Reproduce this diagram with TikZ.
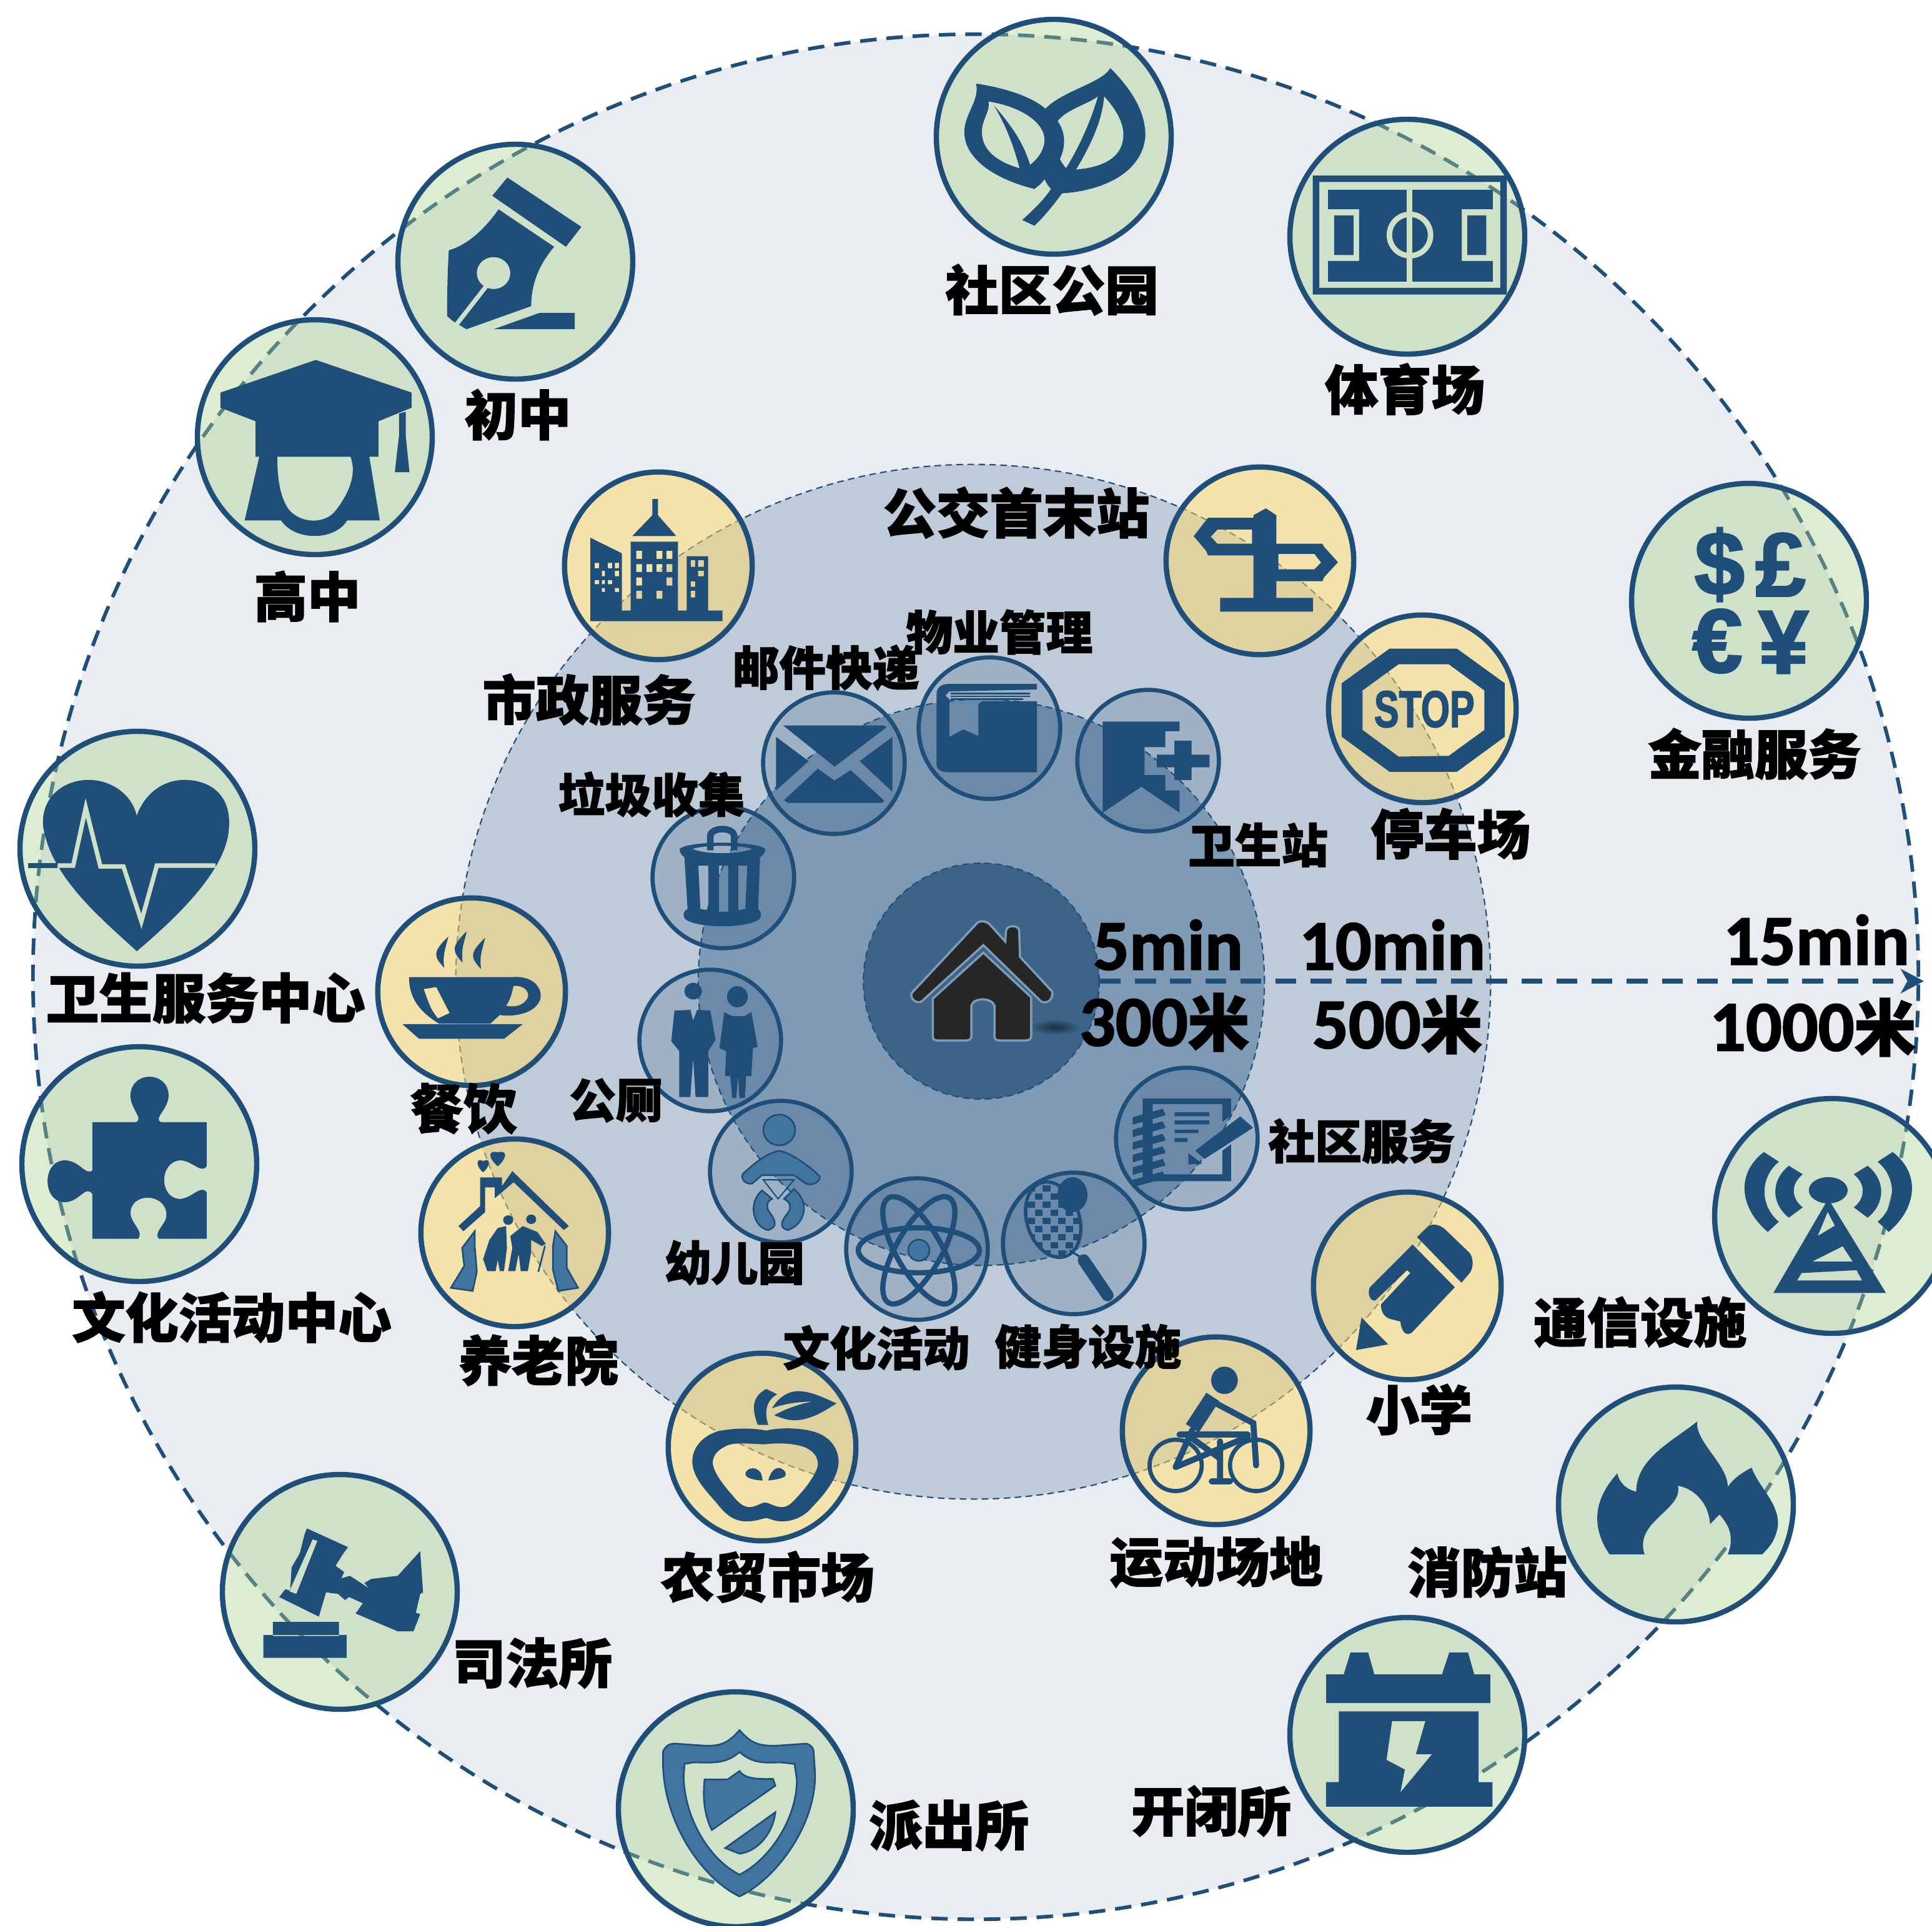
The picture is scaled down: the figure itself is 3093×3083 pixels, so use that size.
\documentclass[tikz,border=0pt]{standalone}
\usepackage{fontspec}
\usetikzlibrary{arrows.meta}
\newfontfamily\cjkfont[BoldFeatures={FakeBold=1.8}]{Noto Sans CJK SC}
\newfontfamily\numfont[BoldFeatures={FakeBold=1.8}]{Carlito}
\newfontfamily\signfont[BoldFeatures={FakeBold=2.2}]{Liberation Sans}
\definecolor{iconblue}{HTML}{1F4E79}
\definecolor{softblue}{HTML}{41749F}
\definecolor{paleball}{HTML}{CFE0C8}
\definecolor{ringout}{HTML}{E9ECF1}
\definecolor{ringmid}{HTML}{BFCBD9}
\definecolor{ringin}{HTML}{7F9AB5}
\definecolor{ringhome}{HTML}{3B6488}
\definecolor{balgreen}{HTML}{A9D18E}
\definecolor{balyellow}{HTML}{FFD966}
\newcommand{\mi}{{\cjkfont\bfseries\fontsize{56}{56}\selectfont 米}}
\tikzset{
    greenball/.style={circle,draw=iconblue,line width=4.8pt,fill=balgreen,fill opacity=.4,minimum size=214pt,inner sep=0},
    yellowball/.style={circle,draw=iconblue,line width=4.8pt,fill=balyellow,fill opacity=.5,minimum size=171pt,inner sep=0},
    blueball/.style={circle,draw=iconblue,line width=3.8pt,fill=iconblue,fill opacity=.2,minimum size=129pt,inner sep=0},
    thinring/.style={circle,draw=iconblue,line width=1.2pt,dash pattern=on 6pt off 4pt,inner sep=0},
    lblLarge/.style={inner sep=0,font=\cjkfont\bfseries\fontsize{48.5}{48.5}\selectfont},
    lblSmall/.style={inner sep=0,font=\cjkfont\bfseries\fontsize{42.5}{42.5}\selectfont},
    lblNum/.style={inner sep=0,font=\numfont\bfseries\fontsize{65}{65}\selectfont},
    lblSign/.style={inner sep=0,text=iconblue,font=\signfont\bfseries\fontsize{82}{82}\selectfont},
    iconfill/.style={fill=iconblue,even odd rule},
    softfill/.style={fill=softblue,draw=iconblue,line width=1.5pt,even odd rule},
    zoomA/.style={shift={(1300,1300)},xscale=.6378,yscale=.4464},
    zoomB/.style={shift={(1400,0)},xscale=.7015,yscale=.4145},
    zoomC/.style={shift={(0,200)},xscale=.6696,yscale=.6378},
    zoomD/.style={shift={(1000,1000)},xscale=.6378,yscale=.4464},
    zoomE/.style={shift={(1000,1500)},xscale=.6378,yscale=.4464},
    zoomF/.style={shift={(300,2300)},xscale=.7653,yscale=.4994},
    zoomG/.style={shift={(1700,1650)},xscale=.8884,yscale=.9139},
    zoomH/.style={shift={(2000,700)},xscale=.6971,yscale=.6378},
    zoomI/.style={shift={(0,1150)},xscale=.6696,yscale=.6378},
    zoomJ/.style={shift={(1860,740)},scale=.3333},
    zoomK/.style={shift={(890,745)},scale=.3333},
    zoomL/.style={shift={(1060,2160)},scale=.3333}
}
\begin{document}
\begin{tikzpicture}[x=.02cm,y=-.02cm]
    \clip (0,0) rectangle (3093,3083);
    %rings
    \node[circle,draw=iconblue,fill=ringout,line width=3.3pt,dash pattern=on 15pt off 9pt,minimum size=1718pt,inner sep=0] (ringOuter) at (1562,1564) {};
    \node[thinring,fill=ringmid,minimum size=943pt] (ringMiddle) at (1558,1572) {};
    \node[thinring,fill=ringin,minimum size=516pt] (ringInner) at (1571,1573) {};
    \node[thinring,fill=ringhome,minimum size=215pt] (ringHome) at (1571,1571) {};

    %distance arrow
    \coordinate (arrowEnd) at (3080,1571);
    \draw[iconblue,line width=4.5pt,dash pattern=on 19pt off 13pt,-{Stealth[length=21pt,width=22pt,inset=6pt]}] (ringHome.east) -- (arrowEnd);

    %outer balls
    \node[greenball] (park) at (1687,219) {};
    \node[greenball] (stadium) at (2253,379) {};
    \node[greenball] (junior) at (825,419) {};
    \node[greenball] (senior) at (504,700) {};
    \node[greenball] (health) at (220,1359) {};
    \node[greenball] (culture) at (223,1864) {};
    \node[greenball] (justice) at (544,2549) {};
    \node[greenball] (police) at (1178,2897) {};
    \node[greenball] (power) at (2253,2778) {};
    \node[greenball] (fire) at (2683,2409) {};
    \node[greenball] (telecom) at (2933,1947) {};
    \node[greenball] (finance) at (2800,962) {};

    %middle balls
    \node[yellowball] (busstop) at (2017,898) {};
    \node[yellowball] (parking) at (2277,1135) {};
    \node[yellowball] (civic) at (1054,906) {};
    \node[yellowball] (dining) at (755,1588) {};
    \node[yellowball] (elder) at (824,1974) {};
    \node[yellowball] (market) at (1220,2317) {};
    \node[yellowball] (sports) at (1947,2291) {};
    \node[yellowball] (primary) at (2253,2059) {};

    %inner balls
    \node[blueball] (service) at (1900,1823) {};
    \node[blueball] (fitness) at (1719,1991) {};
    \node[blueball] (activity) at (1468,2000) {};
    \node[blueball] (nursery) at (1250,1876) {};
    \node[blueball] (toilet) at (1137,1666) {};
    \node[blueball] (trash) at (1158,1405) {};
    \node[blueball] (mail) at (1335,1222) {};
    \node[blueball] (property) at (1584,1166) {};
    \node[blueball] (clinic) at (1838,1218) {};

    %house
    \begin{scope}[zoomA]
        \shade[inner color=black!55!ringhome,outer color=ringhome] (610,772) ellipse [x radius=65,y radius=28];
        \filldraw[fill=black!85,draw=ringin,line width=2pt] (250,650) -- (415,398) .. controls (425,388) and (435,392) .. (445,402) -- (485,465) -- (487,425) .. controls (490,405) and (518,405) .. (520,425) -- (522,520) -- (603,645) .. controls (605,675) and (590,690) .. (575,680) -- (430,478) -- (275,680) .. controls (262,690) and (245,670) .. (250,650) -- cycle;
        \filldraw[fill=black!85,draw=ringin,line width=2pt] (430,505) -- (550,665) -- (550,805) .. controls (550,815) and (545,820) .. (535,820) -- (470,820) .. controls (462,820) and (458,815) .. (458,805) -- (458,695) .. controls (450,665) and (405,665) .. (400,695) -- (400,805) .. controls (400,815) and (395,820) .. (385,820) -- (315,820) .. controls (307,820) and (303,815) .. (303,805) -- (303,670) -- cycle;
    \end{scope}

    %park leaves and stadium
    \begin{scope}[zoomB]
        \path[iconfill] (232,323) .. controls (300,340) and (360,375) .. (390,420) .. controls (430,350) and (520,320) .. (538,263) .. controls (590,350) and (620,440) .. (618,530) .. controls (610,660) and (530,735) .. (428,747) .. controls (405,800) and (385,840) .. (365,872) -- (337,850) .. controls (360,815) and (385,775) .. (403,730) .. controls (395,715) .. (388,692) .. controls (380,710) .. (365,730) .. controls (270,690) and (205,610) .. (205,510) .. controls (205,440) and (240,390) .. (232,323) -- cycle
            (260,392) .. controls (330,410) and (388,470) .. (388,540) .. controls (388,580) and (372,615) .. (355,637) .. controls (340,550) and (310,480) .. (273,408) .. controls (305,500) and (320,580) .. (331,650) .. controls (270,620) and (245,570) .. (245,510) .. controls (245,460) and (265,430) .. (260,392) -- cycle
            (510,372) .. controls (490,400) and (435,425) .. (418,468) .. controls (435,510) and (438,560) .. (423,615) .. controls (428,630) .. (437,650) .. controls (470,560) and (495,460) .. (510,372) -- cycle
            (524,372) .. controls (520,470) and (490,570) .. (460,655) .. controls (530,645) and (568,600) .. (568,520) .. controls (568,470) and (550,420) .. (524,372) -- cycle;
        \path[iconfill] (1000,678) rectangle (1443,1138) (1015,703) rectangle (1428,1112);
        \path[iconfill] (1035,733) -- (1411,733) -- (1411,808) -- (1340,808) -- (1340,1008) -- (1411,1008) -- (1411,1088) -- (1035,1088) -- (1035,1008) -- (1106,1008) -- (1106,808) -- (1035,808) -- cycle;
        \fill[paleball] (1215,733) rectangle (1228,1088);
        \draw[paleball,line width=5pt] (1222,908) ellipse [x radius=47,y radius=80];
        \path[iconfill] (1049,832) rectangle (1093,985) (1353,832) rectangle (1396,985);
    \end{scope}

    %pen and graduation cap
    \begin{scope}[zoomC]
        \path[iconfill] (1213,132) -- (1390,256) -- (1353,306) -- (1177,178) -- cycle;
        \path[iconfill] (1192,212) -- (1325,306) .. controls (1285,355) and (1270,405) .. (1270,455) -- (1115,513) -- (1082,492) -- (1069,480) .. controls (1069,420) and (1070,370) .. (1073,315) .. controls (1120,300) and (1160,260) .. (1192,212) -- cycle;
        \draw[paleball,line width=4pt] (1170,395) -- (1092,500);
        \fill[paleball] (1180,372) ellipse [x radius=40,y radius=40];
        \path[iconfill] (1290,472) -- (1374,472) -- (1374,513) -- (1180,513) -- cycle;
        \path[iconfill] (755,590) -- (984,672) -- (984,710) -- (905,744) -- (905,833) -- (883,833) -- (908,993) -- (830,993) .. controls (800,1045) and (705,1045) .. (672,993) -- (585,993) -- (620,833) -- (611,833) -- (611,744) -- (527,710) -- (527,672) -- cycle
            (663,833) -- (838,833) .. controls (855,880) and (830,930) .. (805,965) .. controls (780,1003) and (720,1003) .. (690,965) .. controls (670,935) and (663,890) .. (663,833) -- cycle;
        \path[iconfill] (954,725) -- (970,720) -- (970,780) -- (979,872) -- (944,872) -- (954,780) -- cycle;
    \end{scope}

    %heart, puzzle, cup, elder home
    \begin{scope}[zoomI]
        \path[iconfill] (327,585) .. controls (250,510) and (120,400) .. (103,270) .. controls (98,200) and (150,155) .. (212,155) .. controls (265,155) and (315,190) .. (327,245) .. controls (345,190) and (390,155) .. (440,155) .. controls (510,155) and (555,200) .. (547,280) .. controls (540,390) and (400,520) .. (327,585) -- cycle;
        \draw[iconblue,line width=4pt] (67,370) -- (138,370);
        \draw[paleball,line width=4pt] (138,370) -- (175,370) -- (205,225) -- (240,372) -- (295,372) -- (338,510) -- (375,370) -- (515,370);
        \path[iconfill] (221,1014) -- (325,1014) .. controls (345,1005) and (310,980) .. (312,945) .. controls (315,885) and (400,885) .. (403,945) .. controls (405,980) and (365,1005) .. (385,1014) -- (494,1014) -- (494,1125) .. controls (480,1145) and (460,1110) .. (430,1110) .. controls (380,1115) and (380,1205) .. (430,1207) .. controls (460,1205) and (480,1170) .. (494,1190) -- (494,1307) -- (380,1307) .. controls (365,1290) and (400,1270) .. (398,1245) .. controls (395,1190) and (310,1190) .. (312,1245) .. controls (315,1270) and (345,1290) .. (330,1307) -- (221,1307) -- (221,1195) .. controls (205,1170) and (190,1215) .. (155,1215) .. controls (100,1215) and (100,1110) .. (155,1110) .. controls (190,1110) and (205,1150) .. (221,1135) -- cycle;
        \path[iconfill] (962,768) -- (1250,768) -- (1205,805) -- (1002,805) -- cycle;
        \path[iconfill] (978,650) -- (1225,650) .. controls (1285,645) and (1300,690) .. (1290,710) .. controls (1275,745) and (1220,750) .. (1195,745) -- (1172,767) -- (1050,767) .. controls (1000,735) and (978,700) .. (978,650) -- cycle
            (1228,672) .. controls (1260,670) and (1270,695) .. (1258,708) .. controls (1245,725) and (1225,725) .. (1210,722) .. controls (1220,705) .. (1228,672) -- cycle
            (1013,680) -- (1043,675) -- (1075,740) -- (1047,754) .. controls (1030,730) .. (1013,680) -- cycle;
        \path[iconfill] (1072,548) .. controls (1030,590) and (1040,600) .. (1062,627) .. controls (1058,590) and (1065,580) .. (1072,548) -- cycle;
        \path[iconfill] (1116,535) .. controls (1074,577) and (1084,587) .. (1106,614) .. controls (1102,577) and (1109,567) .. (1116,535) -- cycle;
        \path[iconfill] (1160,551) .. controls (1118,593) and (1128,603) .. (1150,630) .. controls (1146,593) and (1153,583) .. (1160,551) -- cycle;
        \path[iconfill] (1096,1275) -- (1148,1225) -- (1148,1153) -- (1200,1153) -- (1200,1175) -- (1225,1137) -- (1360,1275) -- (1348,1285) -- (1228,1165) -- (1183,1205) -- (1183,1178) -- (1160,1178) -- (1160,1240) -- (1108,1288) -- cycle;
        \path[iconfill] (1190,1125) .. controls (1168,1105) and (1165,1083) .. (1190,1090) .. controls (1215,1083) and (1212,1105) .. (1190,1125) -- cycle;
        \path[iconfill] (1155,1140) .. controls (1135,1122) and (1140,1102) .. (1155,1112) .. controls (1172,1102) and (1175,1122) .. (1155,1140) -- cycle;
        \path[iconfill] (1270,1258) ellipse [x radius=12,y radius=12] (1215,1260) ellipse [x radius=12,y radius=12];
        \path[iconfill] (1250,1275) -- (1285,1290) -- (1305,1320) -- (1295,1325) -- (1270,1310) -- (1270,1340) -- (1262,1388) -- (1245,1388) -- (1240,1345) -- (1232,1388) -- (1215,1388) -- (1225,1330) -- (1220,1300) -- cycle;
        \path[iconfill] (1190,1280) -- (1210,1275) -- (1212,1330) -- (1205,1388) -- (1195,1388) -- (1190,1360) -- (1185,1388) -- (1165,1388) -- (1155,1358) -- (1170,1310) -- cycle;
        \draw[iconblue,line width=1.5pt] (1303,1325) -- (1287,1390);
        \path[softfill] (1135,1288) -- (1105,1330) -- (1110,1375) -- (1078,1430) -- (1130,1438) -- (1140,1390) -- (1135,1325) -- cycle;
        \path[softfill] (1328,1288) -- (1355,1325) -- (1355,1380) -- (1382,1430) -- (1335,1438) -- (1322,1385) -- (1322,1325) -- cycle;
    \end{scope}

    %gavel, shield
    \begin{scope}[zoomF]
        \path[iconfill] (250,295) -- (336,355) -- (325,378) -- (310,415) -- (328,435) -- (322,455) -- (340,447) -- (380,487) -- (370,470) -- (385,457) -- (440,447) -- (487,368) -- (493,500) -- (487,505) -- (478,565) -- (487,570) -- (473,625) -- (440,625) -- (352,568) -- (367,535) -- (338,515) -- (330,525) -- (315,505) -- (290,500) -- (275,578) -- (192,515) -- (205,490) -- (215,495) -- (218,420) -- (235,375) -- (245,315) -- cycle
            (262,330) -- (272,335) -- (228,505) -- (213,497) -- cycle;
        \path[iconfill] (179,595) rectangle (317,640) (159,637) rectangle (333,710);
        \path[softfill] (1155,942) .. controls (1180,985) and (1195,992) .. (1230,992) -- (1295,985) .. controls (1305,990) and (1310,1000) .. (1310,1010) -- (1313,1080) .. controls (1315,1250) and (1230,1420) .. (1155,1475) .. controls (1080,1420) and (1000,1250) .. (995,1060) -- (995,1010) .. controls (1000,995) and (1005,985) .. (1020,985) -- (1085,992) .. controls (1115,992) and (1130,985) .. (1155,942) -- cycle
            (1155,1012) .. controls (1180,1045) and (1200,1048) .. (1240,1045) -- (1270,1050) -- (1275,1100) .. controls (1275,1230) and (1215,1360) .. (1155,1405) .. controls (1095,1360) and (1040,1230) .. (1038,1090) -- (1040,1050) -- (1060,1045) .. controls (1110,1048) and (1130,1045) .. (1155,1012) -- cycle;
        \path[softfill] (1155,1073) .. controls (1165,1095) and (1185,1100) .. (1225,1098) -- (1230,1120) -- (1097,1262) .. controls (1080,1210) and (1078,1150) .. (1082,1100) -- (1130,1100) -- cycle;
        \path[softfill] (1230,1205) .. controls (1225,1270) and (1195,1330) .. (1155,1338) -- (1125,1320) -- cycle;
    \end{scope}

    %battery, flame, tower, pencil, bike
    \begin{scope}[zoomG]
        \path[iconfill] (476,1128) rectangle (772,1178);
        \path[iconfill] (508,1128) -- (520,1090) -- (552,1090) -- (563,1128) -- cycle (685,1128) -- (698,1090) -- (732,1090) -- (743,1128) -- cycle;
        \path[iconfill] (499,1193) -- (751,1193) -- (751,1317) -- (776,1317) -- (776,1360) -- (476,1360) -- (476,1317) -- (499,1317) -- cycle
            (595,1210) -- (655,1210) -- (638,1268) -- (667,1268) -- (610,1335) -- (618,1295) -- (585,1278) -- cycle;
        \path[iconfill] (987,918) .. controls (960,880) and (950,830) .. (1001,776) .. controls (1005,795) and (1020,805) .. (1035,808) .. controls (1035,750) and (1100,720) .. (1145,685) .. controls (1140,720) and (1200,760) .. (1200,800) .. controls (1210,785) and (1225,775) .. (1243,766) .. controls (1255,800) and (1295,830) .. (1290,870) .. controls (1285,895) and (1275,905) .. (1262,918) -- (1200,918) .. controls (1215,880) and (1195,860) .. (1185,848) -- (1168,865) .. controls (1165,820) and (1130,800) .. (1110,798) .. controls (1120,840) and (1030,860) .. (1050,918) -- cycle;
        \path[iconfill] (1265,213) .. controls (1215,250) and (1220,310) .. (1272,353) -- (1292,335) .. controls (1260,310) and (1255,260) .. (1292,230) -- cycle;
        \path[iconfill] (1310,237) .. controls (1275,265) and (1280,305) .. (1310,328) -- (1335,310) .. controls (1315,295) and (1312,270) .. (1335,252) -- cycle;
        \path[iconfill] (1497,213) .. controls (1547,250) and (1542,310) .. (1490,353) -- (1470,335) .. controls (1502,310) and (1507,260) .. (1470,230) -- cycle;
        \path[iconfill] (1452,237) .. controls (1487,265) and (1482,305) .. (1452,328) -- (1427,310) .. controls (1447,295) and (1450,270) .. (1427,252) -- cycle;
        \path[iconfill] (1381,280) ellipse [x radius=35,y radius=23];
        \path[iconfill] (1381,295) -- (1485,460) -- (1282,460) -- cycle
            (1380,318) -- (1393,342) -- (1362,360) -- cycle
            (1407,378) -- (1425,405) -- (1352,405) -- cycle
            (1432,420) -- (1442,438) -- (1325,438) -- (1333,425) -- cycle;
        \path[iconfill] (640,362) -- (660,343) .. controls (670,338) and (680,340) .. (690,348) -- (735,390) .. controls (742,400) and (742,415) .. (735,425) -- (720,442) -- cycle;
        \path[iconfill] (632,375) -- (708,450) -- (632,528) .. controls (622,537) and (612,530) .. (610,510) -- (590,505) .. controls (578,500) and (575,490) .. (575,480) -- (628,425) -- (622,420) -- (565,473) .. controls (555,475) and (550,460) .. (555,450) -- cycle;
        \path[iconfill] (540,503) -- (588,550) -- (530,560) -- cycle;
        \path[iconfill] (293,613) ellipse [x radius=24,y radius=24];
        \draw[iconblue,line width=3.8pt] (205,762) ellipse [x radius=47,y radius=45] (350,762) ellipse [x radius=47,y radius=45];
        \draw[iconblue,line width=14pt] (272,642) -- (235,697);
        \draw[iconblue,line width=5.5pt,line cap=round] (275,652) -- (345,688) -- (350,762);
        \draw[iconblue,line width=5.5pt,line cap=round] (205,765) -- (335,712) (212,708) -- (335,708) (235,700) -- (205,765) (235,715) -- (285,750) (285,720) -- (285,790) (270,790) -- (303,790);
    \end{scope}

    %signs and currency
    \begin{scope}[zoomH]
        \path[iconfill] (322,531) -- (477,531) -- (587,618) -- (587,752) -- (477,840) -- (322,840) -- (212,752) -- (212,618) -- cycle
            (343,570) -- (458,570) -- (540,636) -- (540,735) -- (458,800) -- (343,802) -- (260,735) -- (260,636) -- cycle;
        \node[inner sep=0,text=iconblue,xscale=.72,font=\signfont\bfseries\fontsize{47}{47}\selectfont] (stopText) at (402,683) {STOP};
        \node[lblSign] (dollarText) at (1080,320) {\$};
        \node[lblSign] (poundText) at (1220,320) {£};
        \node[lblSign] (euroText) at (1075,512) {€};
        \node[lblSign] (yenText) at (1227,515) {¥};
    \end{scope}

    \begin{scope}[zoomJ]
        \path[iconfill] (440,255) -- (500,222) -- (550,255) -- (550,392) -- (771,392) -- (778,405) -- (846,481) -- (780,552) -- (771,572) -- (550,572) -- (550,652) -- (726,652) -- (726,718) -- (280,718) -- (280,652) -- (440,652) -- (440,448) -- (222,448) -- (212,425) -- (153,356) -- (222,267) -- (440,267) -- cycle
            (267,324) -- (433,324) -- (433,392) -- (267,392) -- (235,358) -- cycle
            (560,441) -- (733,441) -- (765,482) -- (733,515) -- (560,515) -- cycle;
    \end{scope}

    %city block
    \begin{scope}[zoomK]
        \path[iconfill] (463,162) -- (490,162) -- (490,240) -- (578,340) -- (367,340) -- (463,240) -- cycle;
        \path[iconfill] (165,348) -- (317,423) -- (317,698) -- (359,698) -- (359,367) -- (586,367) -- (586,698) -- (628,698) -- (628,437) -- (731,437) -- (731,698) -- (800,698) -- (800,749) -- (165,749) -- cycle
            (186,469) rectangle (207,495) (249,469) rectangle (270,495) (283,469) rectangle (303,495)
            (221,507) rectangle (235,533) (283,507) rectangle (303,533)
            (186,552) rectangle (207,571) (221,552) rectangle (235,571) (249,552) rectangle (270,571)
            (221,590) rectangle (235,609) (283,590) rectangle (303,609)
            (386,411) rectangle (414,450) (483,411) rectangle (511,450) (531,411) rectangle (559,450)
            (386,475) rectangle (414,513) (435,475) rectangle (463,513) (483,475) rectangle (511,513) (531,475) rectangle (559,513)
            (386,539) rectangle (414,578) (531,539) rectangle (559,578)
            (386,603) rectangle (414,641) (483,603) rectangle (511,641)
            (648,456) rectangle (669,488) (683,456) rectangle (711,488) (683,507) rectangle (711,533)
            (648,558) rectangle (669,584) (648,603) rectangle (669,635);
    \end{scope}

    %apple
    \begin{scope}[zoomL]
        \path[iconfill] (500,392) .. controls (550,380) and (640,375) .. (720,395) .. controls (800,415) and (845,470) .. (848,540) .. controls (848,620) and (770,710) .. (720,760) .. controls (680,810) and (620,830) .. (570,828) .. controls (540,828) and (520,815) .. (500,812) .. controls (480,815) and (450,828) .. (410,828) .. controls (350,830) and (310,800) .. (270,750) .. controls (220,690) and (145,620) .. (145,540) .. controls (145,470) and (200,415) .. (270,395) .. controls (350,378) and (440,380) .. (500,392) -- cycle
            (495,458) .. controls (540,452) and (620,450) .. (680,470) .. controls (730,490) and (750,520) .. (748,560) .. controls (740,600) and (690,670) .. (650,710) .. controls (620,745) and (600,760) .. (575,760) .. controls (540,760) and (515,738) .. (495,738) .. controls (475,738) and (450,760) .. (420,760) .. controls (385,760) and (360,730) .. (335,700) .. controls (300,660) and (250,600) .. (243,550) .. controls (243,500) and (280,480) .. (310,465) .. controls (350,445) and (440,458) .. (495,458) -- cycle;
        \path[iconfill] (483,632) .. controls (440,630) and (400,620) .. (400,600) .. controls (405,575) and (430,570) .. (450,575) .. controls (475,590) .. (483,632) -- cycle;
        \path[iconfill] (510,632) .. controls (520,590) and (540,570) .. (565,572) .. controls (590,580) and (600,600) .. (590,612) .. controls (570,625) and (540,628) .. (510,632) -- cycle;
        \path[iconfill] (500,192) -- (553,218) .. controls (510,240) and (485,290) .. (510,365) -- (460,365) .. controls (430,290) and (430,230) .. (500,192) -- cycle;
        \path[iconfill] (528,285) .. controls (560,230) and (610,200) .. (660,203) .. controls (720,205) and (790,240) .. (838,262) .. controls (790,290) and (730,335) .. (650,342) .. controls (600,345) and (570,330) .. (538,318) .. controls (600,285) and (660,265) .. (722,252) .. controls (650,255) and (590,262) .. (528,285) -- cycle;
    \end{scope}

    %notebook
    \begin{scope}[zoomA]
        \path[iconfill] (830,1028) -- (1052,1028) -- (1052,1090) -- (1030,1112) -- (1030,1048) -- (855,1048) -- (855,1300) -- (1030,1300) -- (1030,1215) -- (1052,1192) -- (1052,1325) -- (830,1325) -- cycle;
        \foreach \dy in {0,45,90,135,180,225}
            \path[iconfill] (805,1095+\dy) -- (880,1065+\dy) -- (888,1088+\dy) -- (805,1122+\dy) -- cycle;
        \path[iconfill] (910,1078) rectangle (997,1092) (910,1107) rectangle (997,1121) (910,1140) rectangle (970,1152) (910,1170) rectangle (942,1184);
        \path[iconfill] (1075,1092) -- (1107,1133) -- (985,1245) -- (962,1215) -- cycle;
        \path[iconfill] (945,1225) -- (980,1262) -- (945,1265) -- cycle;
    \end{scope}

    %racket
    \begin{scope}
        \clip[rotate around={-72:(1686,1953)}] (1686,1953) ellipse [x radius=62,y radius=42];
        \foreach \row in {0,1,...,8}
            \draw[iconblue,line width=6pt,dash pattern=on 7pt off 7pt,dash phase=\row*7pt] (1620,1903+\row*13) -- (1750,1903+\row*13);
    \end{scope}
    \draw[iconblue,line width=3pt,rotate around={-72:(1686,1953)}] (1686,1953) ellipse [x radius=62,y radius=42];
    \path[iconfill] (1717,1913) ellipse [x radius=24,y radius=28];
    \draw[iconblue,line width=2pt] (1712,2002) -- (1735,2016);
    \draw[iconblue,line width=11pt,line cap=round] (1735,2018) -- (1773,2074);

    %atom
    \draw[iconblue,line width=4.8pt] (1471,2002) ellipse [x radius=97,y radius=36];
    \draw[iconblue,line width=4.8pt,rotate around={60:(1471,2002)}] (1471,2002) ellipse [x radius=97,y radius=36];
    \draw[iconblue,line width=4.8pt,rotate around={-60:(1471,2002)}] (1471,2002) ellipse [x radius=97,y radius=36];
    \path[softfill] (1471,2002) ellipse [x radius=17,y radius=17];

    %baby and couple
    \begin{scope}[zoomE]
        \path[softfill] (388,693) ellipse [x radius=40,y radius=55];
        \path[softfill] (388,768) .. controls (420,775) and (470,830) .. (490,860) .. controls (490,880) and (470,895) .. (455,885) -- (425,855) -- (345,855) -- (320,885) .. controls (305,890) and (290,870) .. (297,850) .. controls (320,820) and (355,775) .. (388,768) -- cycle;
        \draw[iconblue,line width=1.2pt] (348,872) -- (425,872) -- (385,940) -- cycle;
        \path[softfill] (345,910) .. controls (310,950) and (320,1040) .. (360,1052) .. controls (385,1040) and (380,1020) .. (360,980) .. controls (355,960) and (360,945) .. (370,940) -- cycle;
        \path[softfill] (425,905) .. controls (465,950) and (455,1030) .. (410,1052) .. controls (385,1045) and (395,1015) .. (410,990) .. controls (420,970) and (415,950) .. (400,940) -- cycle;
        \path[iconfill] (172,195) ellipse [x radius=22,y radius=30];
        \path[iconfill] (125,265) -- (165,262) -- (172,300) -- (182,262) -- (215,265) -- (228,370) -- (210,410) -- (210,575) -- (178,575) -- (172,435) -- (165,575) -- (137,575) -- (137,410) -- (117,375) -- cycle;
        \path[iconfill] (283,215) ellipse [x radius=26,y radius=38];
        \path[iconfill] (250,270) -- (270,285) -- (300,285) -- (318,270) -- (334,395) -- (322,400) -- (318,500) -- (305,500) -- (302,578) -- (288,578) -- (285,500) -- (280,578) -- (270,578) -- (265,500) -- (252,500) -- (255,410) -- (238,400) -- cycle;
    \end{scope}

    %bin, envelope, book, bookmark
    \begin{scope}[zoomD]
        \draw[iconblue,line width=6pt] (215,810) -- (215,760) .. controls (215,725) and (275,725) .. (275,760) -- (275,810);
        \path[iconfill] (138,805) .. controls (160,775) and (330,775) .. (353,805) .. controls (353,820) and (345,830) .. (340,835) -- (335,1020) .. controls (345,1030) and (345,1050) .. (335,1060) .. controls (300,1090) and (190,1090) .. (155,1060) .. controls (145,1050) and (145,1030) .. (158,1020) -- (150,835) .. controls (145,830) and (138,820) .. (138,805) -- cycle
            (170,805) .. controls (200,790) and (290,790) .. (320,805) .. controls (290,825) and (200,825) .. (170,805) -- cycle
            (185,865) -- (210,865) -- (210,1025) -- (190,1020) -- cycle
            (237,865) -- (260,865) -- (260,1030) -- (237,1030) -- cycle
            (285,865) -- (308,865) -- (303,1020) -- (285,1025) -- cycle;
        \path[iconfill] (398,362) -- (650,362) -- (658,368) -- (527,510) -- cycle;
        \path[iconfill] (400,630) -- (485,517) -- (527,560) -- (567,522) -- (652,632) -- (645,640) -- (410,640) -- cycle;
        \path[iconfill] (380,403) -- (462,490) -- (380,595) -- cycle (672,403) -- (590,490) -- (672,600) -- cycle;
        \path[iconfill] (815,213) -- (1035,213) -- (1035,233) -- (815,240) -- (805,255) -- (818,272) -- (815,285) -- (815,403) -- (850,376) -- (888,400) -- (888,285) -- (898,275) -- (1035,275) -- (1035,530) -- (815,530) .. controls (795,530) and (783,520) .. (783,505) -- (783,250) .. controls (783,225) and (795,213) .. (815,213) -- cycle;
        \draw[iconblue,line width=1.4pt] (818,247) -- (1018,247) (818,258) -- (1018,258) (818,268) -- (1000,268);
        \path[iconfill] (1200,348) -- (1393,348) -- (1393,383) -- (1357,383) -- (1357,440) -- (1305,440) -- (1305,540) -- (1357,540) -- (1357,595) -- (1393,595) -- (1393,675) -- (1297,582) -- (1200,675) -- cycle;
        \path[iconfill] (1380,417) -- (1423,417) -- (1423,467) -- (1468,467) -- (1468,512) -- (1423,512) -- (1423,558) -- (1380,558) -- (1380,512) -- (1336,512) -- (1336,467) -- (1380,467) -- cycle;
    \end{scope}

    %labels
    \node[lblLarge] (parkLabel) at (1684,464) {社区公园};
    \node[lblLarge] (stadiumLabel) at (2249,623) {体育场};
    \node[lblLarge] (juniorLabel) at (829,664) {初中};
    \node[lblLarge] (seniorLabel) at (492,955) {高中};
    \node[lblLarge] (civicLabel) at (943,1120) {市政服务};
    \node[lblLarge] (busstopLabel) at (1627,821) {公交首末站};
    \node[lblSmall] (propertyLabel) at (1600,1012) {物业管理};
    \node[lblSmall] (mailLabel) at (1322,1069) {邮件快递};
    \node[lblSmall] (trashLabel) at (1043,1272) {垃圾收集};
    \node[lblSmall] (clinicLabel) at (2014,1353) {卫生站};
    \node[lblLarge] (parkingLabel) at (2322,1335) {停车场};
    \node[lblLarge] (financeLabel) at (2809,1207) {金融服务};
    \node[lblLarge] (healthLabel) at (329,1598) {卫生服务中心};
    \node[lblLarge] (diningLabel) at (742,1775) {餐饮};
    \node[lblSmall] (toiletLabel) at (986,1762) {公厕};
    \node[lblLarge] (cultureLabel) at (371,2109) {文化活动中心};
    \node[lblSmall] (serviceLabel) at (2180,1827) {社区服务};
    \node[lblLarge] (elderLabel) at (862,2178) {养老院};
    \node[lblSmall] (nurseryLabel) at (1176,2022) {幼儿园};
    \node[lblSmall] (activityLabel) at (1403,2158) {文化活动};
    \node[lblSmall] (fitnessLabel) at (1742,2156) {健身设施};
    \node[lblLarge] (primaryLabel) at (2272,2257) {小学};
    \node[lblLarge] (telecomLabel) at (2626,2117) {通信设施};
    \node[lblLarge] (sportsLabel) at (1947,2501) {运动场地};
    \node[lblLarge] (marketLabel) at (1229,2525) {农贸市场};
    \node[lblLarge] (fireLabel) at (2381,2517) {消防站};
    \node[lblLarge] (justiceLabel) at (852,2663) {司法所};
    \node[lblLarge] (powerLabel) at (1939,2900) {开闭所};
    \node[lblLarge] (policeLabel) at (1519,2923) {派出所};

    %distances
    \node[lblNum] (minA) at (1870,1513) {5min};
    \node[lblNum] (minB) at (2229,1513) {10min};
    \node[lblNum] (minC) at (2908,1505) {15min};
    \node[lblNum] (distA) at (1864,1637) {300\mi};
    \node[lblNum] (distB) at (2237,1641) {500\mi};
    \node[lblNum] (distC) at (2902,1645) {1000\mi};
\end{tikzpicture}
\end{document}
